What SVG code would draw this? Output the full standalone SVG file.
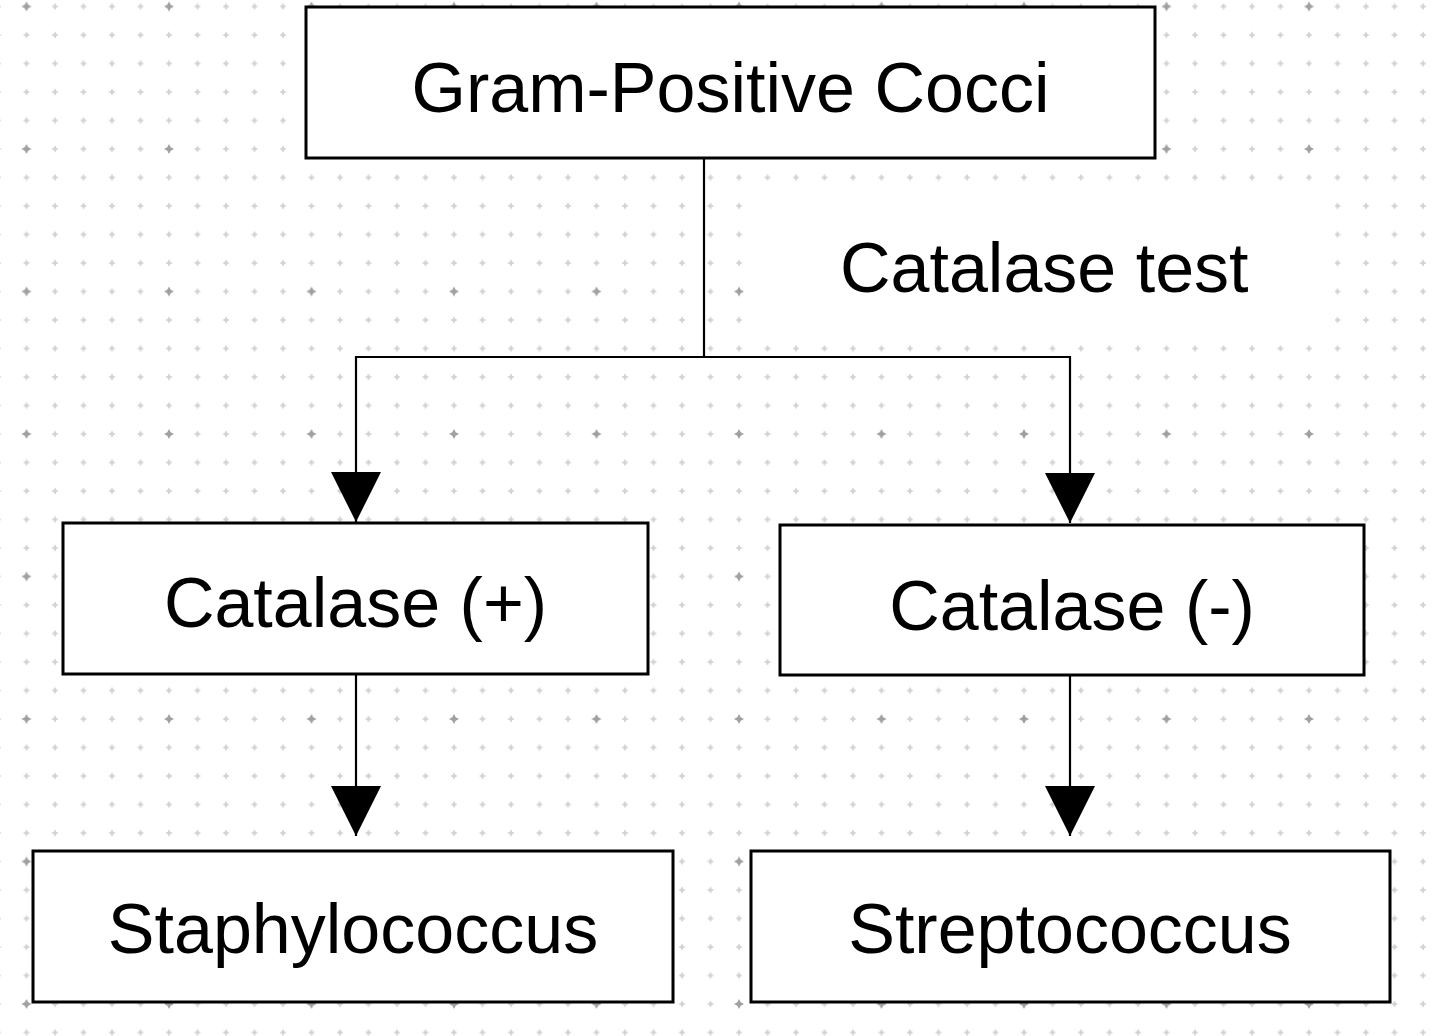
<svg xmlns="http://www.w3.org/2000/svg" width="1440" height="1036" viewBox="0 0 1440 1036">
  <defs>
    <path id="star" d="M0 -3.6L1.3 -1.3L3.6 0L1.3 1.3L0 3.6L-1.3 1.3L-3.6 0L-1.3 -1.3Z"/>
    <path id="bigstar" d="M0 -5L1.7 -1.7L5 0L1.7 1.7L0 5L-1.7 1.7L-5 0L-1.7 -1.7Z"/>
    <pattern id="minor" x="-2" y="6.5" width="28.5" height="28.5" patternUnits="userSpaceOnUse">
      <g fill="#d3d3d3">
        <use href="#star"/>
        <use href="#star" x="28.5"/>
        <use href="#star" y="28.5"/>
        <use href="#star" x="28.5" y="28.5"/>
      </g>
    </pattern>
    <pattern id="major" x="26.5" y="6.5" width="142.5" height="142.5" patternUnits="userSpaceOnUse">
      <g fill="#a0a0a0">
        <use href="#bigstar"/>
        <use href="#bigstar" x="142.5"/>
        <use href="#bigstar" y="142.5"/>
        <use href="#bigstar" x="142.5" y="142.5"/>
      </g>
    </pattern>
    <marker id="arrow" markerUnits="userSpaceOnUse" markerWidth="52" markerHeight="50" refX="50" refY="25" orient="auto">
      <path d="M0 0L50 25L0 50Z" fill="#000"/>
    </marker>
    <style>
      .box { fill: #fff; stroke: #000; stroke-width: 3; }
      .lbl { font-family: "Liberation Sans", Arial, sans-serif; font-size: 70px; fill: #000; text-anchor: middle; }
      .conn { fill: none; stroke: #000; stroke-width: 2.2; }
    </style>
  </defs>

  <rect width="1440" height="1036" fill="#fff"/>
  <rect width="1440" height="1036" fill="url(#minor)"/>
  <rect width="1440" height="1036" fill="url(#major)"/>
  <rect x="745" y="190" width="590" height="144" fill="#fff"/>

  <g id="connectors">
    <path class="conn" d="M704 158V357"/>
    <path class="conn" d="M704 357H356V522" marker-end="url(#arrow)"/>
    <path class="conn" d="M704 357H1070V523" marker-end="url(#arrow)"/>
    <path class="conn" d="M356 674V836" marker-end="url(#arrow)"/>
    <path class="conn" d="M1070 675V836" marker-end="url(#arrow)"/>
    <text class="lbl" x="840" y="292" style="text-anchor:start">Catalase test</text>
  </g>

  <g id="node-gram-positive">
    <rect class="box" x="306" y="7" width="849" height="151"/>
    <text class="lbl" x="730.5" y="112">Gram-Positive Cocci</text>
  </g>
  <g id="node-catalase-pos">
    <rect class="box" x="63" y="523" width="585" height="151"/>
    <text class="lbl" x="355.5" y="627">Catalase (+)</text>
  </g>
  <g id="node-catalase-neg">
    <rect class="box" x="780" y="525" width="584" height="150"/>
    <text class="lbl" x="1072" y="630">Catalase (-)</text>
  </g>
  <g id="node-staph">
    <rect class="box" x="33" y="851" width="640" height="151"/>
    <text class="lbl" x="353" y="953">Staphylococcus</text>
  </g>
  <g id="node-strep">
    <rect class="box" x="751" y="851" width="639" height="151"/>
    <text class="lbl" x="1070" y="953">Streptococcus</text>
  </g>
</svg>
